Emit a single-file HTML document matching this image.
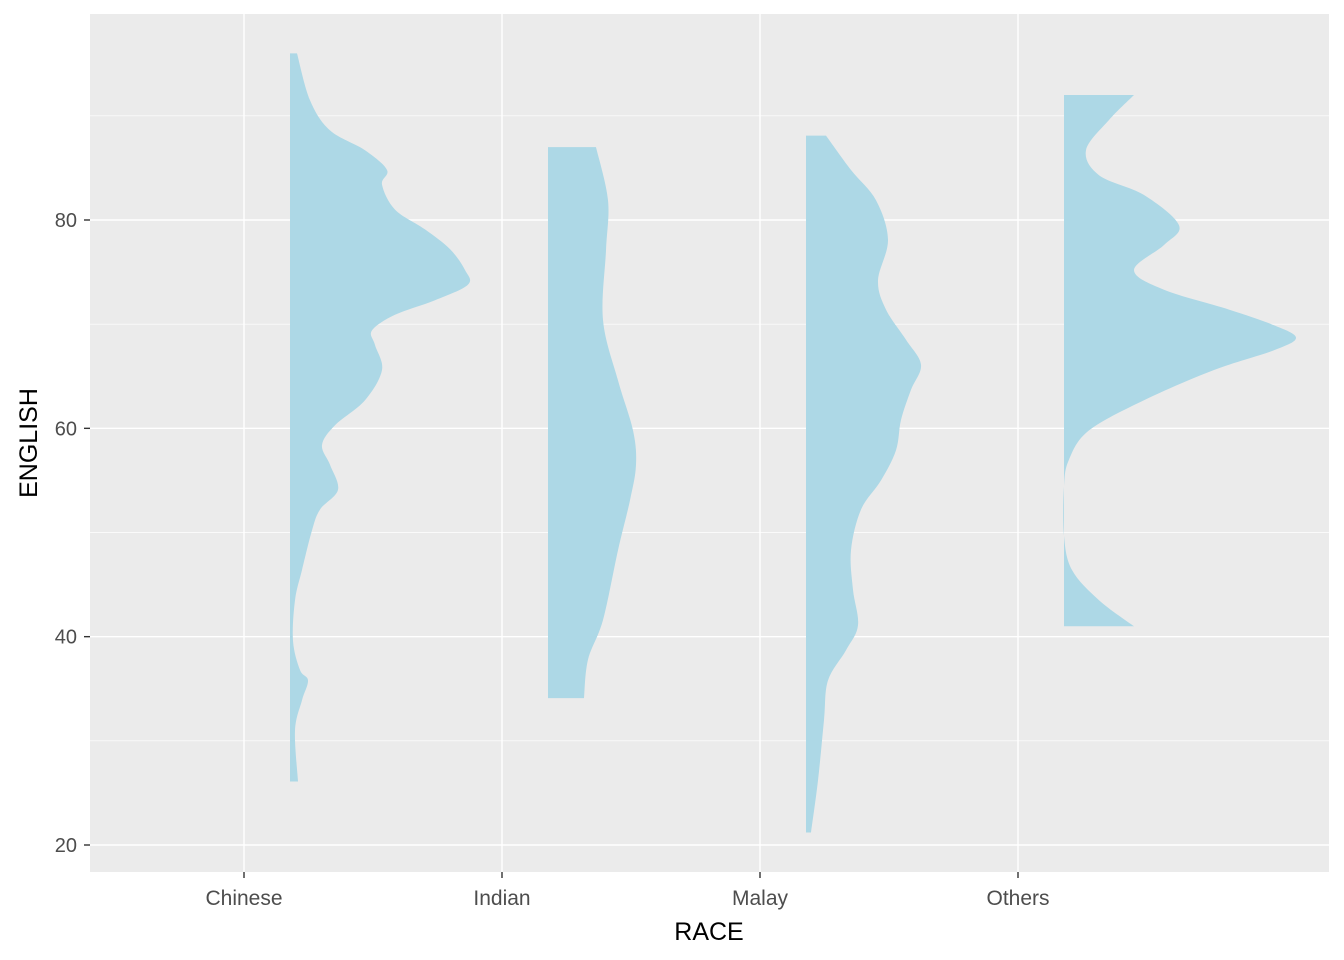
<!DOCTYPE html>
<html><head><meta charset="utf-8"><style>
body{margin:0;background:#fff;}
svg{display:block;font-family:"Liberation Sans",Arial,sans-serif;}
</style></head><body>
<svg id="chart" width="1344" height="960"></svg>
<script>
const categories=["Chinese","Indian","Malay","Others"];
const yTicks=[20,40,60,80];
const yMinor=[30,50,70,90];
const chineseVals=[96.0,91.5,88.6,86.7,84.8,83.4,81.0,79.1,77.2,75.2,73.8,72.3,70.9,69.4,68.0,65.6,62.7,60.3,58.4,56.5,54.1,52.2,50.2,46.4,43.5,39.6,36.8,35.8,33.9,31.0,26.1];
const chineseDens=[7,20,40,75,97,92,105,135,160,175,178,145,105,82,85,92,75,45,32,40,48,30,22,12,5,3,10,18,12,5,8];
const indianVals=[87.0,81.9,77.1,70.4,64.6,59.8,56.5,53.1,48.3,41.6,37.8,34.1];
const indianDens=[48,60,58,55,70,85,88,82,70,55,40,36];
const malayVals=[88.1,84.8,81.9,78.1,74.2,71.4,68.5,66.1,63.7,60.8,57.9,55.0,52.2,48.3,44.5,41.1,38.7,35.8,32.0,26.2,21.2];
const malayDens=[20,45,70,82,72,80,100,115,105,95,90,75,55,45,47,52,40,22,18,12,5];
const othersVals=[92.0,89.6,86.7,84.3,82.4,79.5,77.6,75.2,73.3,71.4,69.9,68.7,67.5,65.6,62.7,59.8,57.0,54.4,49.7,46.4,43.5,41.0];
const othersDens=[70,45,22,35,80,115,100,70,100,165,210,232,210,150,80,25,5,0,0,8,35,70];
const series=[[chineseVals,chineseDens],[indianVals,indianDens],[malayVals,malayDens],[othersVals,othersDens]];

const NS="http://www.w3.org/2000/svg";
const svg=document.getElementById('chart');
const P={l:90,r:1329,t:14,b:872};
const y=v=>845-(v-20)*625/60;
const x=i=>244+i*258;
function el(t,a,p){const e=document.createElementNS(NS,t);for(const k in a)e.setAttribute(k,a[k]);(p||svg).appendChild(e);return e;}
const bg=el('rect',{x:P.l,y:P.t,width:P.r-P.l,height:P.b-P.t,fill:'#ebebeb'});


yMinor.forEach(v=>{const l=el('line',{x1:P.l,x2:P.r,y1:y(v),y2:y(v),stroke:'#fff','stroke-width':0.7});

});
yTicks.forEach(v=>{const l=el('line',{x1:P.l,x2:P.r,y1:y(v),y2:y(v),stroke:'#fff','stroke-width':1.4});


const t=el('line',{x1:84,x2:P.l,y1:y(v),y2:y(v),stroke:'#333','stroke-width':1.4});


const tx=el('text',{x:77,y:y(v)+7,'text-anchor':'end','font-size':20,fill:'#4d4d4d'});tx.textContent=v;

});
categories.forEach((c,i)=>{const l=el('line',{x1:x(i),x2:x(i),y1:P.t,y2:P.b,stroke:'#fff','stroke-width':1.4});


const t=el('line',{x1:x(i),x2:x(i),y1:P.b,y2:P.b+6,stroke:'#333','stroke-width':1.4});


const tx=el('text',{x:x(i),y:905,'text-anchor':'middle','font-size':21,fill:'#4d4d4d'});tx.textContent=c;

});
series.forEach((s,i)=>{const base=x(i)+46;const vals=s[0],d=s[1];
const pts=vals.map((v,k)=>[base+d[k],y(v)]);
let dstr='M'+base+','+pts[0][1]+' L'+pts[0][0]+','+pts[0][1];
for(let k=0;k<pts.length-1;k++){
const p0=pts[Math.max(0,k-1)],p1=pts[k],p2=pts[k+1],p3=pts[Math.min(pts.length-1,k+2)];
const c1=[p1[0]+(p2[0]-p0[0])/6,p1[1]+(p2[1]-p0[1])/6];
const c2=[p2[0]-(p3[0]-p1[0])/6,p2[1]-(p3[1]-p1[1])/6];
dstr+=' C'+c1.join(',')+' '+c2.join(',')+' '+p2.join(',');}
dstr+=' L'+base+','+pts[pts.length-1][1]+' Z';
const p=el('path',{d:dstr,fill:'#add8e6'});

});
const xt=el('text',{x:709,y:940,'text-anchor':'middle','font-size':25,fill:'#000'});xt.textContent='RACE';


const yt=el('text',{x:0,y:0,'text-anchor':'middle','font-size':25,fill:'#000',transform:'translate(37,443) rotate(-90)'});yt.textContent='ENGLISH';


</script>
</body></html>
